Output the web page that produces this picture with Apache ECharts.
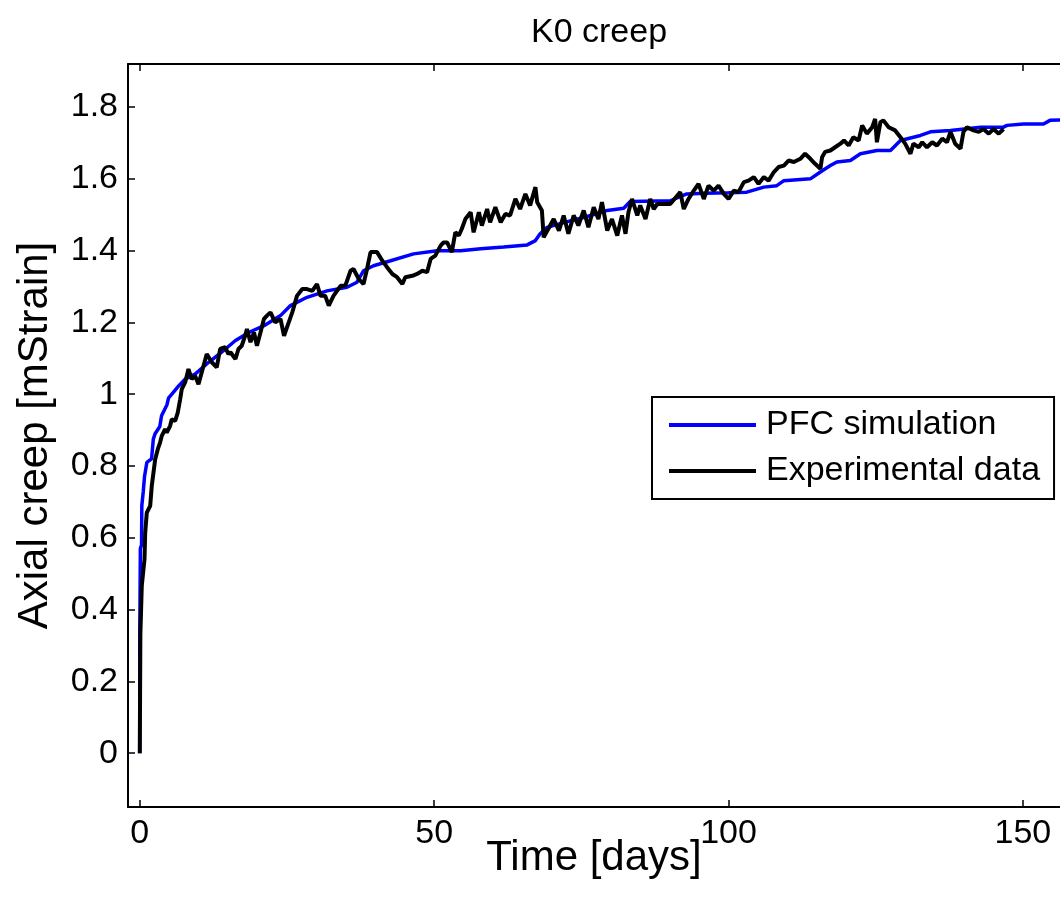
<!DOCTYPE html>
<html>
<head>
<meta charset="utf-8">
<script src="https://cdn.jsdelivr.net/npm/echarts@6/dist/echarts.min.js"></script>
<style>
html, body { margin: 0; padding: 0; background: #fff; }
#chart { width: 1060px; height: 903px; }
</style>
</head>
<body>
<div id="chart"></div>
<script>
// PFC simulation (blue)
var pfcTime = [0, 0, 0.1, 0.3, 0.35, 0.6, 0.8, 1.2, 2.0, 2.3, 2.6, 3.4, 3.7, 4.6, 4.9, 5.7, 6.6, 7.7, 9.4, 11.7,
    13.9, 16.2, 18.5, 21.1, 23.9, 25.6, 28.4, 31.8, 35.2, 36.9, 38.0, 39.7, 42.6, 46.5, 50.5, 54.5, 57.9, 61.8, 65.8, 67.2,
    68.0, 69.2, 72, 76, 79.4, 82.2, 83.3, 90.1, 92.9, 96, 100, 103.1, 106, 108.2, 109.4, 113.9, 115.6, 117.3, 118.4, 120.7,
    122.4, 125.2, 127.5, 129.2, 132.6, 134.3, 137.7, 142.8, 146.7, 147.3, 150.1, 153.5, 154.6, 158];
var pfcStrain = [0, 0.33, 0.57, 0.58, 0.69, 0.73, 0.77, 0.81, 0.82, 0.875, 0.89, 0.91, 0.94, 0.97, 0.99, 1.005, 1.023, 1.042, 1.056, 1.089,
    1.117, 1.149, 1.172, 1.191, 1.219, 1.247, 1.27, 1.288, 1.298, 1.312, 1.344, 1.358, 1.372, 1.391, 1.4, 1.4, 1.405, 1.41, 1.416, 1.428,
    1.447, 1.465, 1.478, 1.495, 1.512, 1.518, 1.537, 1.539, 1.558, 1.56, 1.561, 1.563, 1.577, 1.581, 1.595, 1.6, 1.619, 1.637, 1.647, 1.651,
    1.67, 1.679, 1.679, 1.707, 1.721, 1.731, 1.735, 1.744, 1.744, 1.749, 1.753, 1.753, 1.763, 1.765];

// Experimental data (black)
var expTime = [0, 0.07, 0.1, 0.34, 0.63, 0.8, 0.92, 1.19, 1.77, 2.04, 2.33, 2.62, 3.06, 3.46, 3.74, 4.31, 4.58, 5.16, 5.43, 6.01,
    6.45, 6.86, 7.13, 7.71, 8.27, 8.83, 9.41, 9.97, 10.53, 11.38, 12.23, 13.07, 13.65, 14.5, 15.06, 15.4, 16.25, 16.76, 17.32, 17.9,
    18.2, 18.8, 19.4, 19.9, 20.5, 21.1, 21.6, 22.2, 23.0, 23.9, 24.5, 25.3, 25.9, 26.7, 27.6, 28.4, 29.3, 30.1, 30.7, 31.5,
    32.1, 32.9, 34.1, 34.9, 35.8, 36.3, 37.2, 38.0, 38.6, 39.2, 40.3, 41.2, 42.0, 42.9, 43.7, 44.6, 45.1, 46.3, 47.1, 48.0,
    48.8, 49.4, 50.2, 51.1, 51.6, 52.2, 53.0, 53.6, 54.2, 54.7, 55.3, 56.2, 56.7, 57.6, 58.1, 59.0, 59.5, 60.4, 61.3, 62.1,
    62.9, 63.8, 64.6, 65.5, 66.3, 67.2, 67.5, 68.3, 68.6, 69.4, 70.3, 71.2, 72.0, 72.8, 73.7, 74.5, 75.4, 76.2, 77.1, 77.9,
    78.5, 79.4, 80.2, 81.1, 81.9, 82.5, 83.0, 83.6, 84.5, 85.0, 85.9, 86.7, 87.3, 87.9, 90.1, 91.8, 92.4, 93.2, 94.1, 94.9,
    95.8, 96.6, 97.5, 98.3, 99.2, 100.0, 100.9, 101.7, 102.6, 103.4, 104.3, 105.1, 106.0, 106.8, 107.7, 108.5, 109.4, 110.2, 111.1, 112.2,
    113.0, 113.9, 114.7, 115.6, 115.9, 116.4, 117.3, 118.1, 119.0, 119.6, 120.4, 121.2, 122.1, 122.7, 123.5, 124.4, 124.9, 125.2, 125.8, 126.3,
    127.2, 128.3, 129.2, 130.0, 130.9, 131.4, 132.3, 132.9, 133.7, 134.6, 135.4, 136.3, 137.1, 137.7, 138.5, 139.4, 139.9, 140.5, 141.6, 142.5,
    143.3, 144.2, 145.0, 145.9, 146.7];
var expStrain = [0, 0, 0.33, 0.466, 0.47, 0.54, 0.614, 0.67, 0.689, 0.745, 0.782, 0.819, 0.847, 0.866, 0.884, 0.903, 0.893, 0.912, 0.93, 0.926,
    0.949, 0.986, 1.014, 1.033, 1.07, 1.042, 1.051, 1.028, 1.061, 1.112, 1.089, 1.075, 1.126, 1.131, 1.112, 1.117, 1.098, 1.126, 1.135, 1.163,
    1.182, 1.145, 1.172, 1.135, 1.172, 1.21, 1.219, 1.228, 1.2, 1.21, 1.163, 1.2, 1.228, 1.274, 1.293, 1.293, 1.288, 1.307, 1.274, 1.274,
    1.247, 1.274, 1.302, 1.302, 1.344, 1.349, 1.321, 1.307, 1.349, 1.396, 1.396, 1.372, 1.354, 1.335, 1.326, 1.307, 1.326, 1.33, 1.335, 1.344,
    1.34, 1.377, 1.386, 1.414, 1.423, 1.423, 1.396, 1.451, 1.442, 1.461, 1.488, 1.507, 1.451, 1.507, 1.47, 1.516, 1.479, 1.521, 1.479, 1.502,
    1.498, 1.544, 1.516, 1.558, 1.526, 1.577, 1.535, 1.512, 1.437, 1.461, 1.488, 1.456, 1.498, 1.447, 1.498, 1.47, 1.512, 1.465, 1.521, 1.488,
    1.535, 1.456, 1.488, 1.442, 1.498, 1.447, 1.507, 1.544, 1.498, 1.526, 1.488, 1.544, 1.516, 1.53, 1.53, 1.563, 1.516, 1.544, 1.567, 1.586,
    1.544, 1.581, 1.567, 1.581, 1.558, 1.544, 1.567, 1.563, 1.591, 1.595, 1.605, 1.586, 1.605, 1.595, 1.619, 1.633, 1.637, 1.651, 1.647, 1.656,
    1.67, 1.656, 1.642, 1.628, 1.661, 1.675, 1.679, 1.688, 1.698, 1.707, 1.693, 1.716, 1.707, 1.749, 1.726, 1.744, 1.767, 1.702, 1.758, 1.763,
    1.744, 1.735, 1.716, 1.698, 1.67, 1.698, 1.688, 1.702, 1.688, 1.702, 1.693, 1.712, 1.702, 1.731, 1.698, 1.684, 1.731, 1.744, 1.735, 1.731,
    1.739, 1.726, 1.739, 1.726, 1.739];

var xTicks = [0, 50, 100, 150];
var yTicks = [0, 0.2, 0.4, 0.6, 0.8, 1, 1.2, 1.4, 1.6, 1.8];

function zip(a, b) {
    var out = [];
    for (var i = 0; i < a.length; i++) out.push([a[i], b[i]]);
    return out;
}

var chart = echarts.init(document.getElementById('chart'));
var font = 'Liberation Sans, Arial, sans-serif';

var option = {
    animation: false,
    backgroundColor: '#fff',
    title: {
        text: 'K0 creep',
        left: 594,
        top: 11,
        textAlign: 'center',
        textStyle: { fontFamily: font, fontSize: 34, fontWeight: 'normal', color: '#000' }
    },
    legend: {
        orient: 'vertical',
        left: 652,
        top: 397,
        padding: [10, 14, 10, 17],
        itemGap: 10,
        itemWidth: 87,
        itemHeight: 4,
        icon: 'rect',
        borderColor: '#000',
        borderWidth: 2,
        borderRadius: 0,
        backgroundColor: '#fff',
        textStyle: { fontFamily: font, fontSize: 34, color: '#000', lineHeight: 36, padding: [0, 0, 0, 5] },
        data: ['PFC simulation', 'Experimental data']
    },
    grid: { left: 128, right: 0, top: 64, bottom: 96 },
    xAxis: [{
        type: 'value',
        min: -2,
        max: 156.3,
        name: 'Time [days]',
        nameLocation: 'middle',
        nameGap: 30,
        nameMoveOverlap: false,
        nameTextStyle: { fontFamily: font, fontSize: 42, color: '#000' },
        axisLine: { show: true, onZero: false, lineStyle: { color: '#000', width: 2 } },
        axisTick: { show: true, inside: true, length: 7, customValues: xTicks, lineStyle: { color: '#000', width: 1.5 } },
        axisLabel: { customValues: xTicks, fontFamily: font, fontSize: 34, color: '#000', margin: 10 },
        splitLine: { show: false }
    }, {
        type: 'value',
        position: 'top',
        min: -2,
        max: 156.3,
        axisLine: { show: true, onZero: false, lineStyle: { color: '#000', width: 2 } },
        axisTick: { show: true, inside: true, length: 7, customValues: xTicks, lineStyle: { color: '#000', width: 1.5 } },
        axisLabel: { show: false },
        splitLine: { show: false }
    }],
    yAxis: {
        type: 'value',
        min: -0.15,
        max: 1.92,
        name: 'Axial creep [mStrain]',
        nameLocation: 'middle',
        nameGap: 72,
        nameMoveOverlap: false,
        nameTextStyle: { fontFamily: font, fontSize: 42, color: '#000' },
        axisLine: { show: true, onZero: false, lineStyle: { color: '#000', width: 2 } },
        axisTick: { show: true, inside: true, length: 7, customValues: yTicks, lineStyle: { color: '#000', width: 1.5 } },
        axisLabel: {
            customValues: yTicks, fontFamily: font, fontSize: 34, color: '#000', margin: 10,
            formatter: function (v) { return String(+v.toFixed(1)); }
        },
        splitLine: { show: false }
    },
    series: [{
        name: 'PFC simulation',
        type: 'line',
        symbol: 'none',
        color: '#0000ff',
        lineStyle: { width: 3.5, color: '#0000ff' },
        data: zip(pfcTime, pfcStrain)
    }, {
        name: 'Experimental data',
        type: 'line',
        symbol: 'none',
        color: '#000',
        lineStyle: { width: 4, color: '#000' },
        data: zip(expTime, expStrain)
    }]
};

chart.setOption(option);
</script>
</body>
</html>
